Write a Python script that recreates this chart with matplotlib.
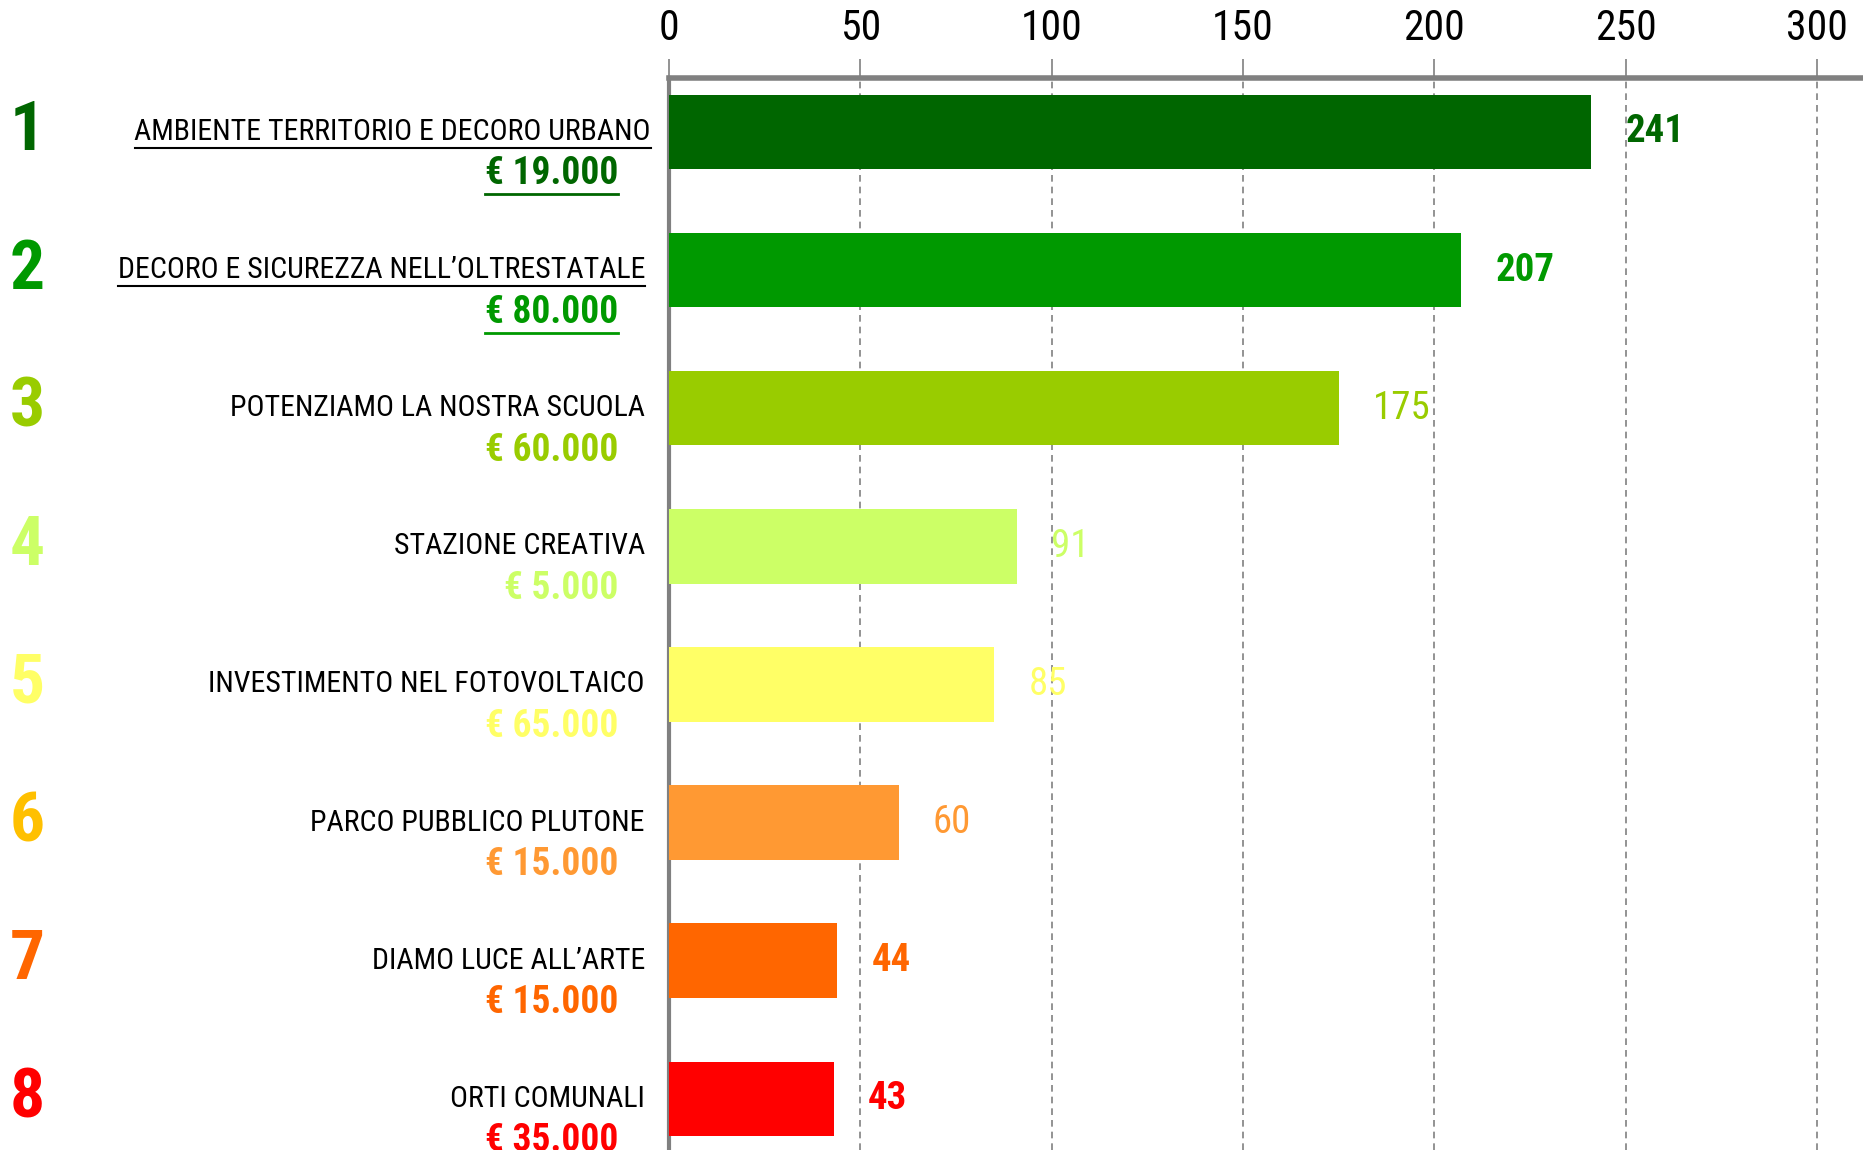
import matplotlib
matplotlib.use("Agg")
import matplotlib.pyplot as plt
from matplotlib import font_manager
from matplotlib.lines import Line2D

available = {f.name for f in font_manager.fontManager.ttflist}
FONT = "DejaVu Sans"
for cand in ["Liberation Sans Narrow", "Roboto Condensed", "Open Sans Condensed", "DejaVu Sans"]:
    if cand in available:
        FONT = cand
        break
plt.rcParams["font.family"] = [FONT, "DejaVu Sans"]

# ---- data ----
categories = [
    "AMBIENTE TERRITORIO E DECORO URBANO",
    "DECORO E SICUREZZA NELL\u2019OLTRESTATALE",
    "POTENZIAMO LA NOSTRA SCUOLA",
    "STAZIONE CREATIVA",
    "INVESTIMENTO NEL FOTOVOLTAICO",
    "PARCO PUBBLICO PLUTONE",
    "DIAMO LUCE ALL\u2019ARTE",
    "ORTI COMUNALI",
]
amounts = ["\u20ac 19.000", "\u20ac 80.000", "\u20ac 60.000", "\u20ac 5.000",
           "\u20ac 65.000", "\u20ac 15.000", "\u20ac 15.000", "\u20ac 35.000"]
votes = [241, 207, 175, 91, 85, 60, 44, 43]
ranks = ["1", "2", "3", "4", "5", "6", "7", "8"]
ticks = [0, 50, 100, 150, 200, 250, 300]

bar_colors = ["#006600", "#009900", "#99CC00", "#CCFF66", "#FFFF66", "#FF9933", "#FF6600", "#FF0000"]
rank_colors = ["#006600", "#009900", "#99CC00", "#CCFF66", "#FFFF66", "#FFC000", "#FF6600", "#FF0000"]
value_bold = [True, True, False, False, False, False, True, True]
underlined = [True, True, False, False, False, False, False, False]

W, H = 1863, 1150
fig = plt.figure(figsize=(W / 100, H / 100), dpi=100)
ax = fig.add_axes([669 / W, 0.0, 1 - 669 / W, 1 - 78 / H])

ypos = list(range(len(categories)))
ax.barh(ypos, votes, height=0.54, color=bar_colors, zorder=3)
ax.set_xlim(0, 312)
ax.set_ylim(7.37, -0.39)

ax.xaxis.tick_top()
ax.set_xticks(ticks)
ax.set_xticklabels([str(t) for t in ticks], fontsize=30)
ax.tick_params(axis="x", length=14, width=1.2, color="#808080", pad=7)
ax.set_yticks([])
ax.grid(axis="x", linestyle=(0, (4, 3)), color="#808080", linewidth=1.2, zorder=0)

for s in ["right", "bottom"]:
    ax.spines[s].set_visible(False)
ax.spines["top"].set_color("#808080")
ax.spines["top"].set_linewidth(4)
ax.spines["left"].set_color("#808080")
ax.spines["left"].set_linewidth(3)

texts_to_underline = []
for i, (cat, amt, v) in enumerate(zip(categories, amounts, votes)):
    y = ypos[i]
    # rank number
    ax.annotate(ranks[i], xy=(0, y), xycoords=("figure fraction", "data"),
                xytext=(10, 0), textcoords="offset pixels",
                ha="left", va="center", fontsize=50, fontweight="bold",
                color=rank_colors[i], annotation_clip=False)
    # category label
    xr = 651 if i == 0 else 645
    t1 = ax.annotate(cat, xy=(xr / W, y), xycoords=("figure fraction", "data"),
                     xytext=(0, 0), textcoords="offset pixels",
                     ha="right", va="center", fontsize=21.5, color="black",
                     annotation_clip=False)
    # amount
    t2 = ax.annotate(amt, xy=(618 / W, y), xycoords=("figure fraction", "data"),
                     xytext=(0, -42), textcoords="offset pixels",
                     ha="right", va="center", fontsize=27, fontweight="bold",
                     color=bar_colors[i], annotation_clip=False)
    if underlined[i]:
        texts_to_underline.append((t1, "#000000", 1.5))
        texts_to_underline.append((t2, bar_colors[i], 2.0))
    # value label
    ax.annotate(str(v), xy=(v, y), xytext=(34, 0), textcoords="offset pixels",
                ha="left", va="center", fontsize=28,
                fontweight="bold" if value_bold[i] else "normal",
                color=bar_colors[i], annotation_clip=False)

fig.canvas.draw()
renderer = fig.canvas.get_renderer()
for t, col, lw in texts_to_underline:
    bb = t.get_window_extent(renderer)
    yline = bb.y0 - 2
    fig.add_artist(Line2D([bb.x0 / W, bb.x1 / W], [yline / H, yline / H],
                          transform=fig.transFigure, color=col, linewidth=lw))

fig.savefig("out.png", dpi=100)
